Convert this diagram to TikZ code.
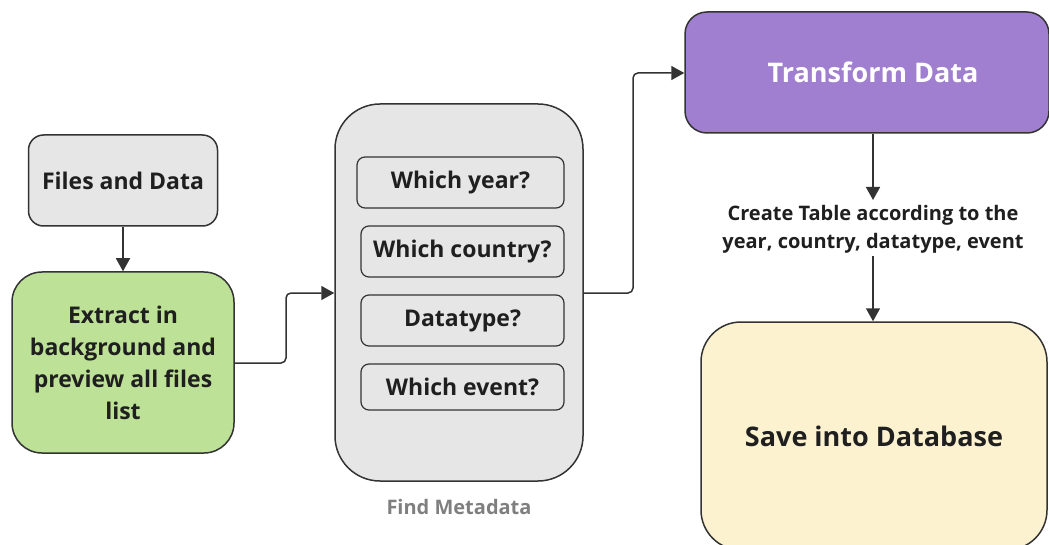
\documentclass[tikz,border=0pt]{standalone}
\usepackage{fontspec}
\setmainfont{Open Sans}
\usetikzlibrary{arrows.meta}
\definecolor{edge}{HTML}{333333}
\definecolor{greybox}{HTML}{E6E6E6}
\definecolor{greenbox}{HTML}{BDE197}
\definecolor{purplebox}{HTML}{A07FD0}
\definecolor{yellowbox}{HTML}{FDF2CF}
\definecolor{captiongrey}{HTML}{7F7F7F}
\tikzset{
  box/.style={draw=edge, line width=1.5pt, inner sep=0pt, align=center, font=\bfseries, text=black!88},
  question/.style={box, fill=greybox, rounded corners=8pt, minimum height=51pt, line width=1.2pt, font=\bfseries\fontsize{23}{27}\selectfont},
  link/.style={draw=edge, line width=1.5pt, rounded corners=5pt, -{Triangle[length=13pt,width=14pt]}},
}
\begin{document}
\begin{tikzpicture}[x=1pt,y=-1pt]
\useasboundingbox (0,0) rectangle (1049,545);
\begin{scope}
\clip (0,0) rectangle (1049,545);

% source and extraction
\node[box, fill=greybox, rounded corners=15pt, minimum width=189pt, minimum height=91pt, font=\bfseries\fontsize{23}{27}\selectfont]
  (files) at (123,180.5) {Files and Data};
\node[box, fill=greenbox, rounded corners=30pt, minimum width=222pt, minimum height=181pt, font=\bfseries\fontsize{23}{32}\selectfont]
  (extract) at (123,362.5) {Extract in\\background and\\preview all files\\list};

% metadata container with its questions
\node[box, fill=greybox, rounded corners=45pt, minimum width=248pt, minimum height=377pt]
  (meta) at (459,292.5) {};
\node[question, minimum width=207pt] (year) at (460.5,182.5) {Which year?};
\node[question, minimum width=203pt] (country) at (462.5,251.5) {Which country?};
\node[question, minimum width=203pt] (dtype) at (462.5,320.5) {Datatype?};
\node[question, minimum width=203pt, minimum height=46pt] (event) at (462.5,387) {Which event?};
\node[font=\bfseries\fontsize{20}{24}\selectfont, text=captiongrey]
  (metacap) at (459,507) {Find Metadata};

% transformation and storage
\node[box, fill=purplebox, rounded corners=22pt, minimum width=364pt, minimum height=121pt]
  (transform) at (867,72.5) {};
\node[font=\bfseries\fontsize{27}{32}\selectfont, text=white, inner sep=0pt]
  (transformtext) at (873,72.5) {Transform Data};
\node[align=center, font=\bfseries\fontsize{20}{28}\selectfont, text=black!88, inner sep=0pt]
  (table) at (873,229) {Create Table according to the\\year, country, datatype, event};
\node[box, fill=yellowbox, rounded corners=40pt, minimum width=346pt, minimum height=228pt, font=\bfseries\fontsize{27}{32}\selectfont]
  (save) at (874,436) {Save into Database};

% connectors
\coordinate (tabletop) at (873,200);
\coordinate (tablebot) at (873,256);
\draw[link] (files.south) -- (extract.north);
\draw[link] (extract.east |- 0,363) -| (286,293) -- (meta.west |- 0,293);
\draw[link] (meta.east |- 0,293) -| (633,73) -- (transform.west |- 0,73);
\draw[link] (transform.south -| tabletop) -- (tabletop);
\draw[link] (tablebot) -- (save.north -| tablebot);
\end{scope}
\end{tikzpicture}
\end{document}
